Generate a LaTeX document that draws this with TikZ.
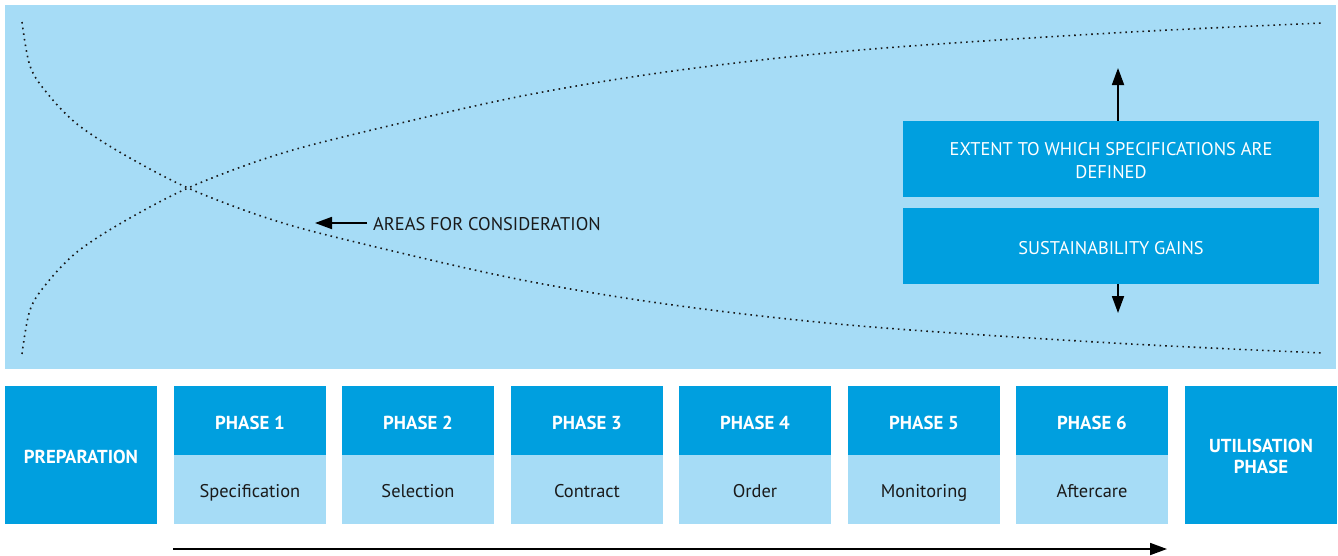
\documentclass[tikz,border=0pt]{standalone}
\usepackage{fontspec}
\setmainfont{PT Sans}
\usetikzlibrary{arrows.meta}
\definecolor{dblue}{HTML}{009FDF}
\definecolor{lblue}{HTML}{A6DCF6}
\definecolor{ink}{HTML}{1A1A1A}
\begin{document}
\begin{tikzpicture}[x=1pt,y=-1pt,
  panel/.style={fill=lblue, draw=none, inner sep=0pt, minimum width=1331pt, minimum height=364pt},
  darkbox/.style={fill=dblue, draw=none, text=white, inner sep=0pt, align=center, minimum width=152pt, minimum height=69pt, font=\fontsize{18.8}{21}\selectfont\bfseries, text height=17.8pt, text depth=0pt},
  tallbox/.style={darkbox, minimum height=138pt},
  twoline/.style={text height=36.6pt, text depth=0pt},
  lightbox/.style={fill=lblue, draw=none, text=ink, inner sep=0pt, minimum width=152pt, minimum height=69pt, font=\fontsize{18.4}{21}\selectfont, text height=15.5pt, text depth=0pt},
  infobox/.style={fill=dblue, draw=none, text=white, inner sep=0pt, align=center, minimum width=416pt, minimum height=76pt, font=\fontsize{18.4}{23}\selectfont, text height=17pt, text depth=0pt},
  curve/.style={draw=ink, line width=1.6pt, dash pattern=on 1.6pt off 4.1pt},
  arr/.style={draw=black, line width=1.8pt, -{Triangle[length=17pt,width=12pt]}},
  note/.style={text=ink, inner sep=0pt, font=\fontsize{18.4}{21}\selectfont, text height=14.5pt, text depth=0pt}
]
\useasboundingbox (0,0) rectangle (1338,555);
\node[panel] (panel) at (670.5,187) {};

% dotted curves
\draw[curve] plot[smooth, tension=0.55] coordinates {(22,354) (30,310) (47,283) (77,252) (123,222) (188,188) (267,158) (347,136) (517,97) (673,71) (860,50) (1113,33) (1323,23)};
\draw[curve] plot[smooth, tension=0.55] coordinates {(22,22) (30,66) (47,93) (77,124) (123,154) (188,188) (267,218) (347,240) (517,279) (673,305) (860,326) (1113,343) (1323,353)};

% areas for consideration
\node[note, anchor=west, inner xsep=6pt] (areas) at (367,223) {AREAS FOR CONSIDERATION};
\coordinate (areatip) at (315,223);
\draw[arr] (areas.west) -- (areatip);

% info boxes
\node[infobox, text height=38.6pt, text depth=0pt] (extent) at (1111,159) {EXTENT TO WHICH SPECIFICATIONS ARE\\DEFINED};
\node[infobox] (gains) at (1111,246) {SUSTAINABILITY GAINS};
\coordinate (uptip) at (1118,68);
\coordinate (downtip) at (1118,313);
\draw[arr] (uptip |- extent.north) -- (uptip);
\draw[arr] (downtip |- gains.south) -- (downtip);

% phase row
\node[tallbox] (prep) at (81,455) {PREPARATION};
\node[darkbox] (p1) at (250,420.5) {PHASE 1};
\node[lightbox] (s1) at (250,489.5) {Specification};
\node[darkbox] (p2) at (418,420.5) {PHASE 2};
\node[lightbox] (s2) at (418,489.5) {Selection};
\node[darkbox] (p3) at (587,420.5) {PHASE 3};
\node[lightbox] (s3) at (587,489.5) {Contract};
\node[darkbox] (p4) at (755,420.5) {PHASE 4};
\node[lightbox] (s4) at (755,489.5) {Order};
\node[darkbox] (p5) at (924,420.5) {PHASE 5};
\node[lightbox] (s5) at (924,489.5) {Monitoring};
\node[darkbox] (p6) at (1092,420.5) {PHASE 6};
\node[lightbox] (s6) at (1092,489.5) {Aftercare};
\node[tallbox, twoline] (util) at (1261,455) {UTILISATION\\PHASE};

% timeline arrow
\coordinate (tstart) at (173,549);
\coordinate (tend) at (1167,549);
\draw[arr] (tstart) -- (tend);
\end{tikzpicture}
\end{document}
